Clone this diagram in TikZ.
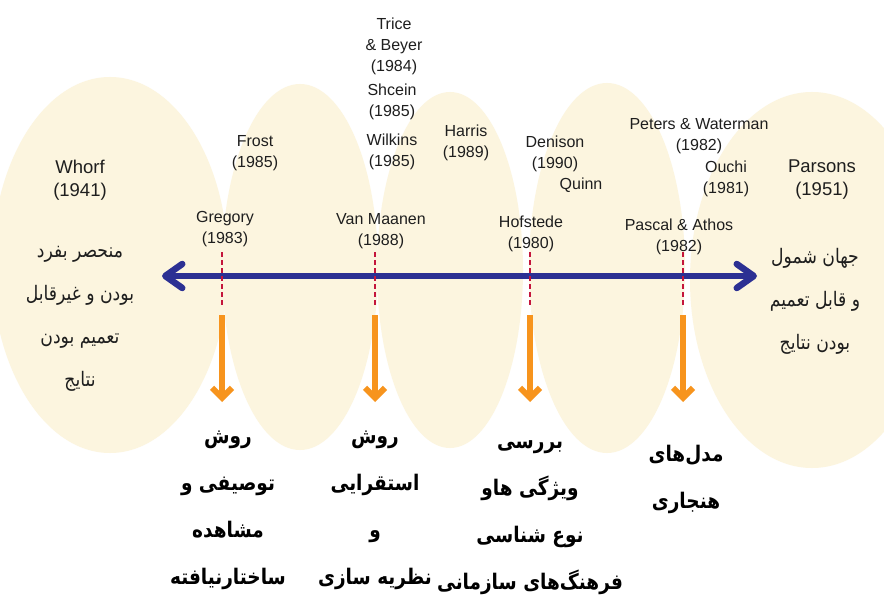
\documentclass[tikz,border=0pt]{standalone}
\usepackage{fontspec}
\setmainfont{Liberation Sans}
\newfontfamily\arabicfont[Script=Arabic]{DejaVu Sans}
\newfontfamily\arabicnarrow[Script=Arabic,FakeStretch=0.86]{DejaVu Sans}
\TeXXeTstate=1
\usetikzlibrary{arrows.meta}
\definecolor{cream}{HTML}{FCF5DF}
\definecolor{navy}{HTML}{2C3093}
\definecolor{orangeA}{HTML}{F7941D}
\definecolor{dashred}{HTML}{C4153C}
\definecolor{txt}{HTML}{1E1E1E}
\begin{document}
\begin{tikzpicture}[x=1pt,y=-1pt,
 lab/.style={align=center,inner sep=0pt,text=txt,font=\fontsize{16}{21}\selectfont},
 biglab/.style={align=center,inner sep=0pt,text=txt,font=\fontsize{18.5}{23}\selectfont},
 fa/.style={align=center,inner sep=0pt,text=txt,font=\arabicnarrow\fontsize{20}{43}\selectfont},
 fab/.style={align=center,inner sep=0pt,text=black,font=\arabicnarrow\bfseries\fontsize{21.5}{47}\selectfont},
 dashln/.style={dashred,line width=1.3pt,dash pattern=on 5pt off 3pt},
 orarrow/.style={orangeA,line width=6pt,-{Straight Barb[length=10pt,width=20pt]}},
 bluearrow/.style={navy,line width=6.5pt,{Straight Barb[round,length=17pt,width=24pt]}-{Straight Barb[round,length=17pt,width=24pt]}},
 ]
\useasboundingbox (0,0) rectangle (884,599);
\fill[white] (0,0) rectangle (884,599);
% ellipses
\fill[cream] (110,265) ellipse [x radius=118pt, y radius=188pt];
\fill[cream] (300,267) ellipse [x radius=78pt, y radius=183pt];
\fill[cream] (450,270) ellipse [x radius=73pt, y radius=178pt];
\fill[cream] (607,268) ellipse [x radius=78pt, y radius=185pt];
\fill[cream] (812,280) ellipse [x radius=122pt, y radius=188pt];

% axis
\coordinate (axL) at (162,276);
\coordinate (axR) at (757,276);
\draw[bluearrow] (axL) -- (axR);

% vertical markers
\foreach \n/\x in {a/222,b/375,c/530,d/683}{
  \coordinate (\n top) at (\x,252);
  \coordinate (\n mid) at (\x,307);
  \coordinate (\n s) at (\x,315);
  \coordinate (\n e) at (\x,402);
  \draw[dashln] (\n top) -- (\n mid);
  \draw[orarrow] (\n s) -- (\n e);
}

% Latin labels
\node[biglab] (whorf) at (80,180) {Whorf\\(1941)};
\node[biglab] (parsons) at (822,180) {Parsons\\(1951)};
\node[lab] (frost) at (255,153) {Frost\\(1985)};
\node[lab] (gregory) at (225,229) {Gregory\\(1983)};
\node[lab] (trice) at (394,46) {Trice\\\& Beyer\\(1984)};
\node[lab] (shcein) at (392,102) {Shcein\\(1985)};
\node[lab] (wilkins) at (392,152) {Wilkins\\(1985)};
\node[lab] (vanm) at (381,231) {Van Maanen\\(1988)};
\node[lab] (harris) at (466,143) {Harris\\(1989)};
\node[lab] (denison) at (555,154) {Denison\\(1990)};
\node[lab] (quinn) at (581,185) {Quinn};
\node[lab] (hofstede) at (531,234) {Hofstede\\(1980)};
\node[lab] (peters) at (699,136) {Peters \& Waterman\\(1982)};
\node[lab] (ouchi) at (726,179) {Ouchi\\(1981)};
\node[lab] (pascal) at (679,237) {Pascal \& Athos\\(1982)};

% Persian side texts
\node[fa] (leftfa) at (80,319) {\beginR منحصر بفرد\endR\\\beginR بودن و غیرقابل\endR\\\beginR تعمیم بودن\endR\\\beginR نتایج\endR};
\node[fa] (rightfa) at (815,301) {\beginR جهان شمول\endR\\\beginR و قابل تعمیم\endR\\\beginR بودن نتایج\endR};

% Persian bottom texts
\node[fab] (m1) at (228,510) {\beginR روش\endR\\\beginR توصیفی و\endR\\\beginR مشاهده\endR\\\beginR ساختارنیافته\endR};
\node[fab] (m2) at (375,510) {\beginR روش\endR\\\beginR استقرایی\endR\\\beginR و\endR\\\beginR نظریه سازی\endR};
\node[fab] (m3) at (530,518) {\beginR بررسی\endR\\\beginR ویژگی هاو\endR\\\beginR نوع شناسی\endR\\\beginR فرهنگ‌های سازمانی\endR};
\node[fab] (m4) at (686,479) {\beginR مدل‌های\endR\\\beginR هنجاری\endR};
\end{tikzpicture}
\end{document}
